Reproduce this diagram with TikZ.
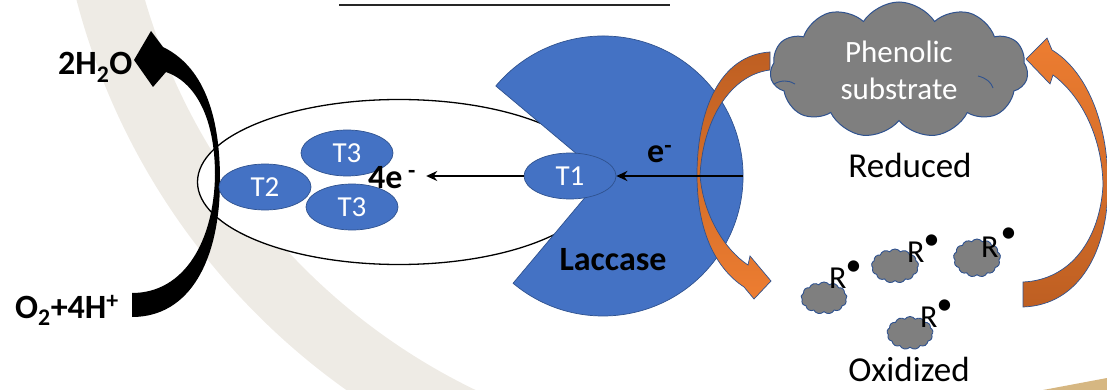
\documentclass[tikz,border=0pt]{standalone}
\usepackage{fontspec}
\setmainfont{Carlito}
\usetikzlibrary{shapes.symbols,shapes.geometric,arrows.meta}
\definecolor{lacblue}{HTML}{4472C4}
\definecolor{edgeblue}{HTML}{2F528F}
\definecolor{cloudgray}{HTML}{7F7F7F}
\definecolor{orangelight}{HTML}{ED7D31}
\definecolor{orangedark}{HTML}{BE5F22}
\definecolor{bandbeige}{RGB}{238,235,229}
\definecolor{cornertan}{RGB}{214,183,130}

\begin{document}
\begin{tikzpicture}[x=1pt,y=-1pt,
  copper/.style={ellipse, fill=lacblue, draw=edgeblue, line width=0.7pt,
    minimum width=92pt, minimum height=46pt, inner sep=0pt, text=white,
    font=\fontsize{29}{30}\selectfont},
  lbl/.style={font=\fontsize{34}{36}\selectfont\bfseries, inner sep=0pt},
  plain/.style={font=\fontsize{35}{38}\selectfont, inner sep=0pt},
  radlbl/.style={font=\fontsize{32}{34}\selectfont, inner sep=0pt, anchor=base west},
  radical/.style={cloud, cloud puffs=13, cloud puff arc=110, cloud ignores aspect,
    fill=cloudgray, draw=edgeblue, line width=0.9pt, inner sep=0pt},
  crease/.style={draw=edgeblue, line width=0.9pt},
  bendarrow/.style={draw=edgeblue, line width=0.7pt},
  flow/.style={line width=2.4pt, -{Stealth[length=11pt,width=10pt]}}
]
\clip (0,0) rectangle (1107,390);

% pale sweeping band in the background
\begin{scope}
  \clip (0,0) rectangle (700,390);
  \draw[bandbeige, line width=66pt] (748,-176) circle[radius=661pt];
\end{scope}
\fill[cornertan] (1043,390) -- (1107,378) -- (1107,390) -- cycle;

% heading rule
\draw[line width=2pt, black!85] (339,5) -- (670,5);

% pocket holding the trinuclear cluster
\node[ellipse, draw, fill=white, line width=1.3pt, minimum width=403pt,
  minimum height=165pt, inner sep=0pt] (pocket) at (399,182) {};

% O2 -> water curved arrow
\fill (132,317) .. controls (190,317) and (220,260) .. (220,180)
  .. controls (220,112) and (202,66) .. (163,47) -- (151,31) -- (134,60)
  -- (153,87) -- (166,72) .. controls (195,82) and (215,117) .. (215,175)
  .. controls (214,240) and (185,293) .. (132,293) -- cycle;

% copper sites T2/T3
\node[copper] (T2) at (265,187) {T2};
\node[copper] (T3a) at (347,153) {T3};
\node[copper] (T3b) at (352,207) {T3};

% laccase body
\filldraw[fill=lacblue, draw=edgeblue, line width=0.7pt] (603,176) -- (495.8,86)
  arc[start angle=140, end angle=-130, radius=140pt] -- cycle;

\node[copper] (T1) at (570,176) {T1};

% electron flow
\coordinate (rim) at (743,176);
\node[lbl, anchor=base west] (fourE) at (368,188) {4e\,\textsuperscript{-}};
\node[lbl, anchor=base west] (eminus) at (647,163) {e\textsuperscript{-}};
\node[lbl, anchor=base] (laccase) at (613,270) {Laccase};

% substrate turnover arrows
\draw[bendarrow, top color=orangedark, bottom color=orangelight]
  (770,52) .. controls (720,55) and (697,110) .. (697,175)
  .. controls (697,230) and (715,268) .. (744,287) -- (754,299) -- (771,281)
  -- (750,256) -- (748,265) .. controls (725,250) and (703,215) .. (700,175)
  .. controls (703,120) and (730,75) .. (770,70) -- cycle;
\draw[bendarrow, top color=orangelight, bottom color=orangedark]
  (1023,307) .. controls (1080,305) and (1108,250) .. (1108,185)
  .. controls (1108,120) and (1085,70) .. (1052,50) -- (1047,38) -- (1026,59)
  -- (1050,84) -- (1053,75) .. controls (1080,95) and (1102,135) .. (1103,185)
  .. controls (1100,240) and (1070,280) .. (1023,282) -- cycle;

\draw[flow] (rim) -- (T1);
\draw[flow, line width=1.8pt] (T1.west) -- ([xshift=10pt]fourE.east |- T1.west);

% water and oxygen labels
\node[lbl, anchor=base west] (water) at (58,75) {2H\textsubscript{2}O};
\node[lbl, anchor=base west] (oxygen) at (15,318) {O\textsubscript{2}+4H\textsuperscript{+}};

% phenolic substrate
\node[cloud, cloud puffs=11, cloud puff arc=115, cloud ignores aspect,
  minimum width=258pt, minimum height=136pt, fill=cloudgray, draw=edgeblue,
  line width=1pt, text=white, align=center, inner sep=0pt,
  font=\fontsize{31}{37}\selectfont] (substrate) at (899,70) {Phenolic\\substrate};
\draw[crease] (774,84) .. controls (781,80) and (789,80) .. (795,84);
\draw[crease] (978,76) .. controls (986,78) and (991,82) .. (993,88);
\node[plain, anchor=base] (reduced) at (910,178) {Reduced};

% radicals
\node[radical, minimum width=46pt, minimum height=32pt] (c1) at (824,298) {};
\node[radical, minimum width=47pt, minimum height=34pt] (c2) at (895,266) {};
\node[radical, minimum width=47pt, minimum height=38pt] (c3) at (977,258) {};
\node[radical, minimum width=46pt, minimum height=33pt] (c4) at (910,333) {};
\node[radlbl] (r1) at (829,288) {R\kern-1pt\raisebox{13pt}{\textbullet}};
\node[radlbl] (r2) at (907,262) {R\kern-1pt\raisebox{13pt}{\textbullet}};
\node[radlbl] (r3) at (981,257) {R\kern2pt\raisebox{15pt}{\textbullet}};
\node[radlbl] (r4) at (920,327) {R\kern-1pt\raisebox{13pt}{\textbullet}};
\node[plain, anchor=base] (oxidized) at (909,381) {Oxidized};
\end{tikzpicture}
\end{document}
